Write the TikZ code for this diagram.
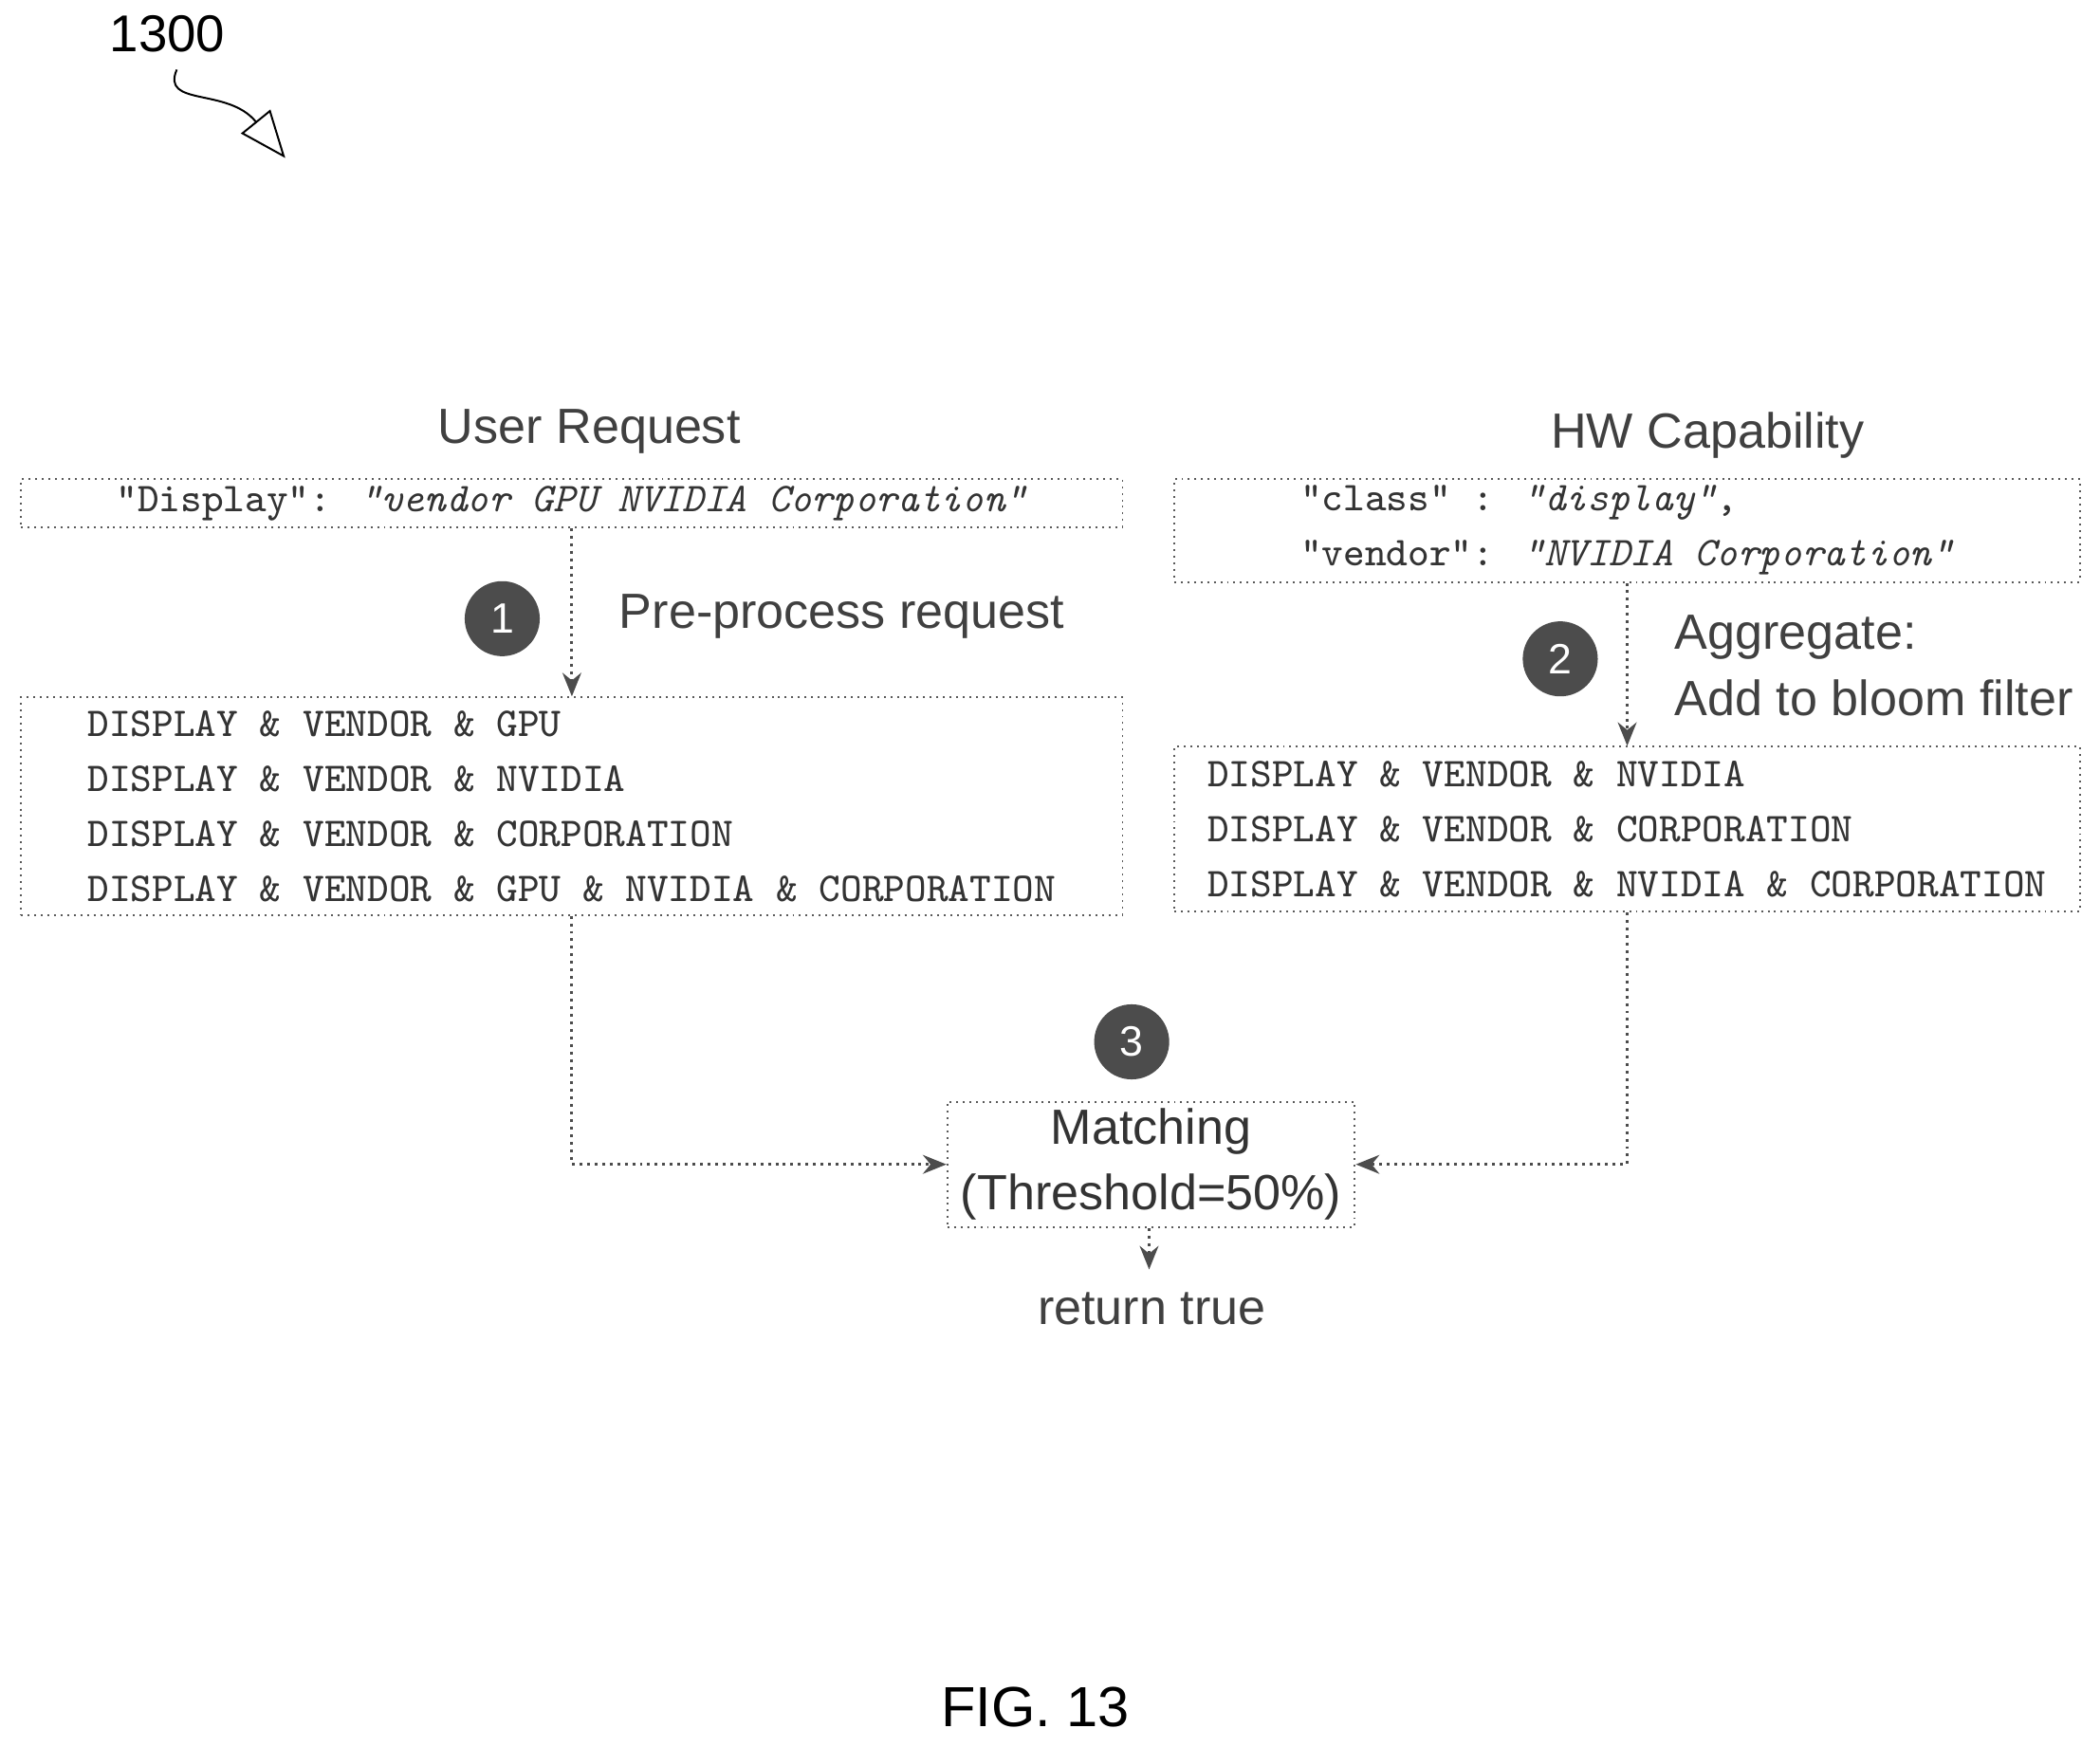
\documentclass[tikz,border=0pt]{standalone}
\usepackage{fontspec}
\setmainfont{Liberation Sans}
\usetikzlibrary{arrows.meta,positioning}
\tikzset{
  box/.style={draw, densely dotted, gray!70!black, text=gray!40!black, font=\fontsize{8.7}{11.66}\selectfont\ttfamily, align=left, anchor=north west, inner xsep=0.1cm, inner ysep=0.05cm},
  stepno/.style={circle, fill=gray!60!black, text=white, minimum size=0.56cm, inner sep=0pt, font=\fontsize{9}{10}\selectfont},
  lbl/.style={text=gray!50!black, font=\fontsize{10.5}{14}\selectfont},
  link/.style={gray!60!black, densely dotted, semithick},
  tip/.style={-{Stealth[length=5pt,width=4pt]}}
}
\begin{document}
\begin{tikzpicture}[x=0.01cm,y=-0.01cm]
\useasboundingbox (0,0) rectangle (1568,1304);
% reference numeral
\node[font=\fontsize{11}{13}\selectfont] (num) at (125,25) {1300};
\coordinate (numend) at (213,118);
\draw[-{Triangle[open,length=10pt,width=8pt]}] (132,52) .. controls (120,80) and (170,65) .. (numend);
% headings
\node[lbl] (userhead) at (440,322) {User Request};
\node[lbl] (hwhead) at (1275,325) {HW Capability};
% user side
\node[box, minimum width=8.22cm, minimum height=0.35cm, inner xsep=0.02cm] (req) at (15,357) {"Display": \textit{"vendor GPU NVIDIA Corporation"}};
\node[box, minimum width=8.22cm, minimum height=1.62cm, inner ysep=0.1cm] (reqtok) at (15,520) {DISPLAY \& VENDOR \& GPU\\DISPLAY \& VENDOR \& NVIDIA\\DISPLAY \& VENDOR \& CORPORATION\\DISPLAY \& VENDOR \& GPU \& NVIDIA \& CORPORATION};
\node[stepno] (s1) at (375,462) {1};
\node[lbl, anchor=west] (prelbl) at (450,460) {Pre-process request};
\draw[link, tip] (req.south -| 427,0) -- (reqtok.north -| 427,0);
% hw side
\node[box, minimum width=6.76cm, minimum height=0.73cm, inner xsep=0.02cm] (cap) at (876,357) {"class" : \textit{"display"},\\"vendor": \textit{"NVIDIA Corporation"}};
\node[box, minimum width=6.76cm, minimum height=1.23cm, inner ysep=0.1cm] (captok) at (876,557) {DISPLAY \& VENDOR \& NVIDIA\\DISPLAY \& VENDOR \& CORPORATION\\DISPLAY \& VENDOR \& NVIDIA \& CORPORATION};
\node[stepno] (s2) at (1165,492) {2};
\node[lbl, anchor=west, align=left] (agglbl) at (1238,497) {Aggregate:\\Add to bloom filter};
\draw[link, tip] (cap.south -| 1215,0) -- (captok.north -| 1215,0);
% matching
\node[stepno] (s3) at (845,778) {3};
\node[box, anchor=center, align=center, font=\fontsize{10.5}{14}\selectfont, minimum width=2.75cm, minimum height=0.93cm] (match) at (859.5,869.5) {Matching\\(Threshold=50\%)};
\draw[link, tip] (reqtok.south -| 427,0) |- (match.west);
\draw[link, tip] (captok.south -| 1215,0) |- (match.east);
\node[lbl] (result) at (860,977) {return true};
\draw[link, tip] (match.south -| 858,0) -- (858,948);
% caption
\node[font=\fontsize{12}{14}\selectfont] (fig) at (773,1275) {FIG. 13};
\end{tikzpicture}
\end{document}
